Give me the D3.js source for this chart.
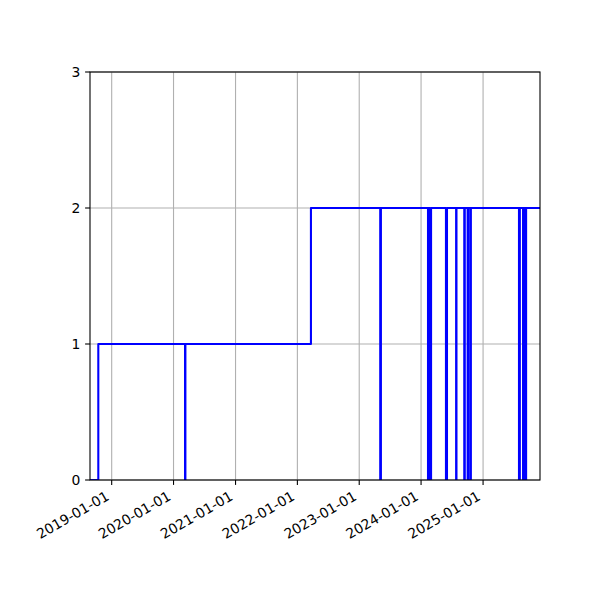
<!DOCTYPE html>
<html>
<head>
<meta charset="utf-8">
<script src="https://cdn.jsdelivr.net/npm/d3@7"></script>
<style>
  body { margin: 0; background: #fff; }
  text { font-family: "DejaVu Sans", sans-serif; font-size: 13.9px; fill: #000; }
</style>
</head>
<body>
<div id="chart"></div>
<script>
// step changes: from each date on, the series holds the level until the next date
const changeDates = [
  "2018-08-26", "2018-10-14",
  "2020-03-09", "2020-03-11",
  "2022-03-22",
  "2023-05-05", "2023-05-09",
  "2024-02-11", "2024-02-14", "2024-02-17", "2024-02-20", "2024-02-23", "2024-02-29",
  "2024-05-27", "2024-06-02",
  "2024-07-26", "2024-07-28",
  "2024-09-12", "2024-09-15",
  "2024-10-02", "2024-10-05",
  "2024-10-18", "2024-10-21",
  "2025-08-01", "2025-08-06",
  "2025-08-25", "2025-08-29", "2025-09-01", "2025-09-05", "2025-09-08", "2025-09-12",
  "2025-12-03"
];
const levels = [
  0, 1,
  0, 1,
  2,
  0, 2,
  0, 2, 0, 2, 0, 2,
  0, 2,
  0, 2,
  0, 2,
  0, 2,
  0, 2,
  0, 2,
  0, 2, 0, 2, 0, 2,
  2
];
const xTickDates = ["2019-01-01", "2020-01-01", "2021-01-01", "2022-01-01",
                    "2023-01-01", "2024-01-01", "2025-01-01"];
const yTicks = [0, 1, 2, 3];

const parse = d3.utcParse("%Y-%m-%d");
const fmt = d3.utcFormat("%Y-%m-%d");
const data = changeDates.map((d, i) => ({ date: parse(d), value: levels[i] }));

const width = 600, height = 600;
const margin = { top: 72, right: 60, bottom: 120, left: 90 };
const innerW = width - margin.left - margin.right;
const innerH = height - margin.top - margin.bottom;

const svg = d3.select("#chart")
  .append("svg")
  .attr("width", width)
  .attr("height", height);

const g = svg.append("g")
  .attr("transform", `translate(${margin.left},${margin.top})`);

const x = d3.scaleUtc()
  .domain(d3.extent(data, d => d.date))
  .range([0, innerW]);

const y = d3.scaleLinear()
  .domain([0, 3])
  .range([innerH, 0]);

// grid lines (below the line)
g.append("g")
  .selectAll("line")
  .data(xTickDates.map(parse))
  .enter()
  .append("line")
  .attr("x1", d => x(d)).attr("x2", d => x(d))
  .attr("y1", 0).attr("y2", innerH)
  .attr("stroke", "#b0b0b0")
  .attr("stroke-width", 1.1);

g.append("g")
  .selectAll("line")
  .data(yTicks)
  .enter()
  .append("line")
  .attr("x1", 0).attr("x2", innerW)
  .attr("y1", d => y(d)).attr("y2", d => y(d))
  .attr("stroke", "#b0b0b0")
  .attr("stroke-width", 1.1);

svg.append("clipPath")
  .attr("id", "plot-clip")
  .append("rect")
  .attr("width", innerW)
  .attr("height", innerH);

const line = d3.line()
  .x(d => x(d.date))
  .y(d => y(d.value))
  .curve(d3.curveStepAfter);

g.append("path")
  .datum(data)
  .attr("clip-path", "url(#plot-clip)")
  .attr("fill", "none")
  .attr("stroke", "#0000ff")
  .attr("stroke-width", 2.08)
  .attr("stroke-linejoin", "round")
  .attr("d", line);

// spines
g.append("rect")
  .attr("width", innerW)
  .attr("height", innerH)
  .attr("fill", "none")
  .attr("stroke", "#000")
  .attr("stroke-width", 1.1);

// y axis
const yAxis = g.append("g");
yAxis.selectAll("line")
  .data(yTicks)
  .enter()
  .append("line")
  .attr("x1", -4.9).attr("x2", 0)
  .attr("y1", d => y(d)).attr("y2", d => y(d))
  .attr("stroke", "#000")
  .attr("stroke-width", 1.1);
yAxis.selectAll("text")
  .data(yTicks)
  .enter()
  .append("text")
  .attr("x", -9.7)
  .attr("y", d => y(d))
  .attr("dy", "0.36em")
  .attr("text-anchor", "end")
  .text(d => d);

// x axis, labels rotated 30 degrees like autofmt_xdate
const xAxis = g.append("g").attr("transform", `translate(0,${innerH})`);
xAxis.selectAll("line")
  .data(xTickDates.map(parse))
  .enter()
  .append("line")
  .attr("x1", d => x(d)).attr("x2", d => x(d))
  .attr("y1", 0).attr("y2", 4.9)
  .attr("stroke", "#000")
  .attr("stroke-width", 1.1);
xAxis.selectAll("text")
  .data(xTickDates.map(parse))
  .enter()
  .append("text")
  .attr("text-anchor", "end")
  .attr("transform", d => `translate(${x(d) - 1.6},${9.7 + 9.3}) rotate(-30)`)
  .text(d => fmt(d));
</script>
</body>
</html>
